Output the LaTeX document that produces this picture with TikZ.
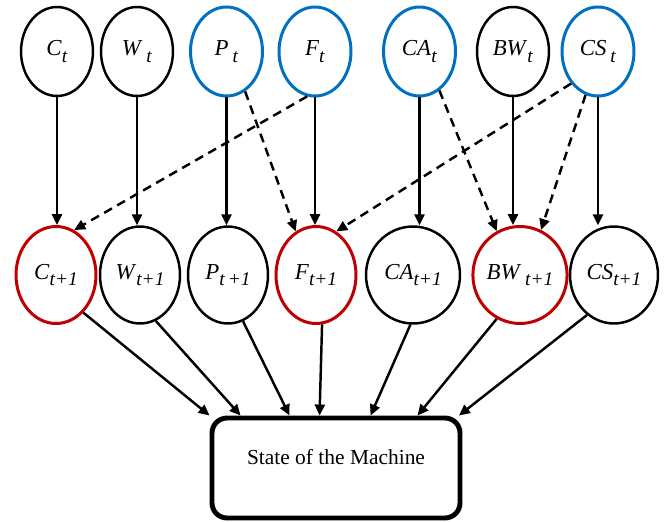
\documentclass[tikz,border=0pt]{standalone}
\usepackage{fontspec}
\setmainfont{Liberation Serif}
\usetikzlibrary{shapes.geometric,arrows.meta}
\definecolor{obsblue}{RGB}{0,112,192}
\definecolor{keyred}{RGB}{192,0,0}
% nhãn biến: chữ nghiêng + chỉ số dưới
\newcommand{\vlab}[3][]{\textit{#2}#1\raisebox{-0.6ex}{\fontsize{11}{12}\selectfont\textit{#3}}}
\tikzset{
  >={Triangle[length=0.22cm,width=0.2cm]},
  var/.style={ellipse, draw, line width=1.4pt, inner sep=0pt,
    minimum width=1.44cm, minimum height=1.78cm, font=\fontsize{13}{15}\selectfont},
  obs/.style={var, draw=obsblue, line width=1.7pt},
  nxt/.style={var, minimum width=1.6cm, minimum height=1.94cm},
  hit/.style={draw=keyred, line width=1.7pt},
  link/.style={->, line width=1.4pt},
  soft/.style={link, dash pattern=on 0.18cm off 0.12cm},
}
\begin{document}
\begin{tikzpicture}[x=0.02cm, y=-0.02cm]
  \useasboundingbox (0,0) rectangle (666,521);
  % Hàng trên: trạng thái tại t
  \node[var] (Ct)  at (57,51.5)  {\vlab{C}{t}};
  \node[var] (Wt)  at (137,51.5) {\vlab[\,]{W}{t}};
  \node[obs] (Pt)  at (226.5,51.5) {\vlab[\,]{P}{t}};
  \node[obs] (Ft)  at (315,51.5) {\vlab{F}{t}};
  \node[obs] (CAt) at (419.5,51.5) {\vlab{CA}{t}};
  \node[var] (BWt) at (513,51.5) {\vlab{BW}{t}};
  \node[obs] (CSt) at (598,51.5) {\vlab[\,]{CS}{t}};
  % Hàng dưới: trạng thái tại t+1
  \node[nxt, hit] (C1)  at (56,275)  {\vlab{C}{t+1}};
  \node[nxt] (W1)  at (140,275) {\vlab{W}{t+1}};
  \node[nxt] (P1)  at (228,275) {\vlab{P}{t\,+1}};
  \node[nxt, hit] (F1)  at (316,275) {\vlab{F}{t+1}};
  \node[nxt, minimum width=1.88cm] (CA1) at (413,275) {\vlab{CA}{t+1}};
  \node[nxt, hit, minimum width=1.88cm] (BW1) at (520,275) {\vlab[\,]{BW}{t+1}};
  \node[nxt, minimum width=1.76cm] (CS1) at (614,275) {\vlab{CS}{t+1}};
  % Hộp trạng thái máy
  \node[draw, line width=2.8pt, rounded corners=0.3cm, minimum width=4.96cm,
    minimum height=2cm, text depth=0.45cm, font=\fontsize{12.2}{14}\selectfont]
    (box) at (336,468) {State of the Machine};
  % Cung liền t -> t+1
  \foreach \a/\b in {Ct/C1, Wt/W1, Pt/P1, Ft/F1, CAt/CA1, BWt/BW1, CSt/CS1}
    \draw[link] (\a) -- (\a |- \b.north);
  % Cung nét đứt
  \draw[soft] (Ft.260) -- (C1.68);
  \draw[soft] (Pt.295) -- (F1.115);
  \draw[soft] (CSt.230) -- (F1.65);
  \draw[soft] (CAt.297) -- (BW1.118);
  \draw[soft] (CSt.254) -- (BW1.65);
  % Vào hộp
  \draw[link] (C1.306) -- (box.north west);
  \draw[link] (W1.289) -- ([xshift=0.62cm]box.north west);
  \draw[link] (P1.288) -- ([xshift=1.6cm]box.north west);
  \draw[link] (F1.277) -- ([xshift=2.2cm]box.north west);
  \draw[link] (CA1.267) -- ([xshift=3.22cm]box.north west);
  \draw[link] (BW1.242) -- ([xshift=4.16cm]box.north west);
  \draw[link] (CS1.236) -- ([xshift=-0.07cm]box.north east);
\end{tikzpicture}
\end{document}
